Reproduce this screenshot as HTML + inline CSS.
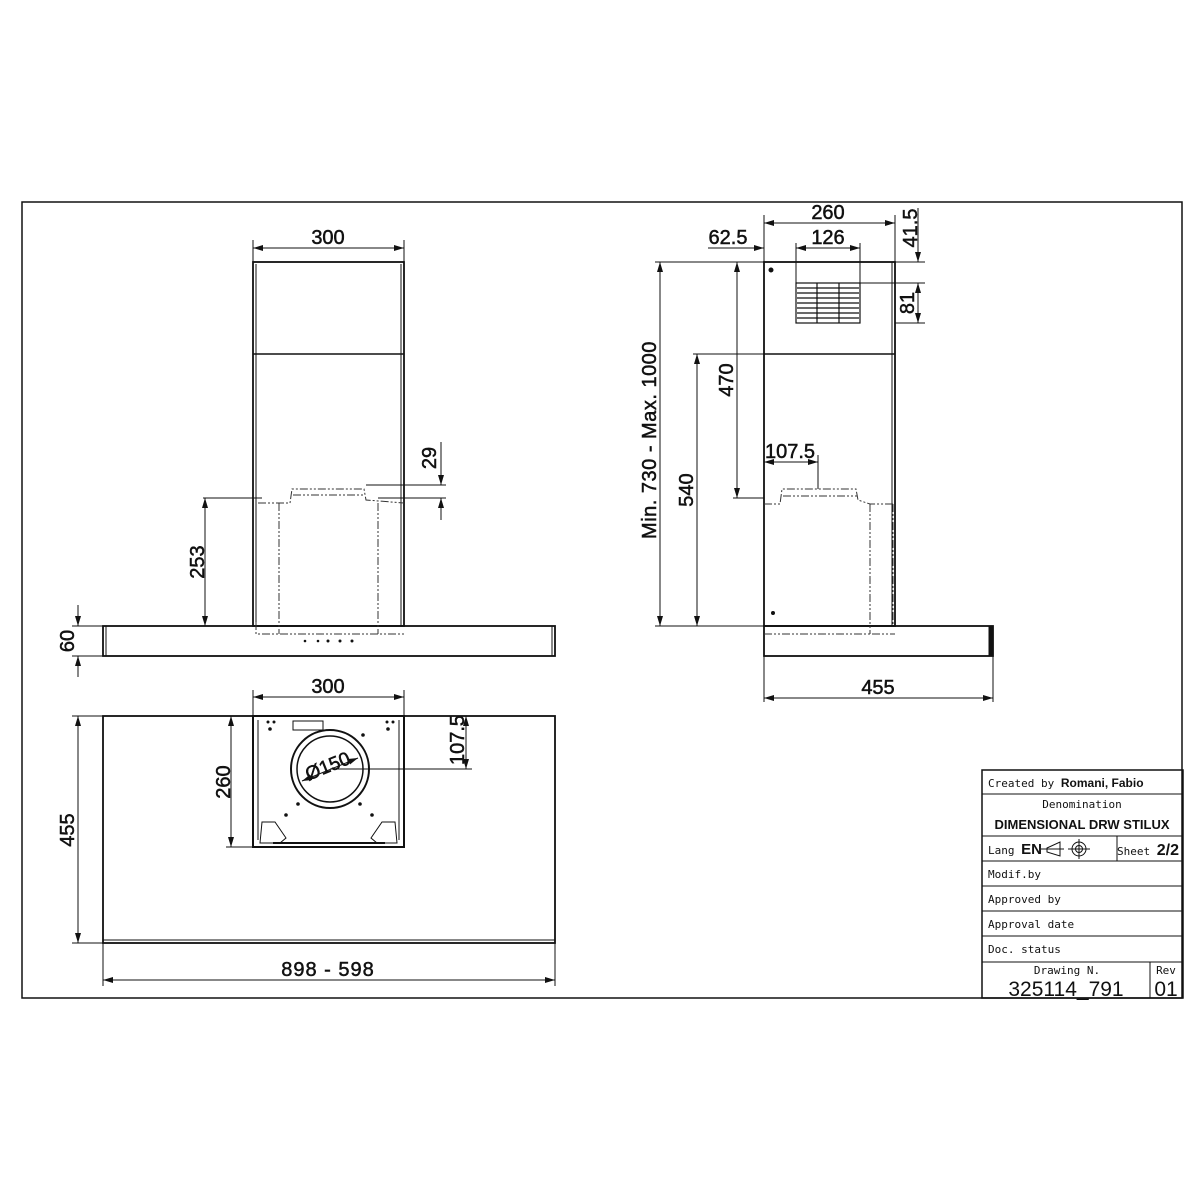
<!DOCTYPE html>
<html><head><meta charset="utf-8"><style>
body{margin:0;background:#fff}
svg{display:block}
text{font-family:"Liberation Sans",sans-serif;fill:#111}
.d text{stroke:#111;stroke-width:0.5}
.m{font-family:"DejaVu Sans Mono","Liberation Mono",monospace;font-size:11px}
</style></head><body>
<svg width="1200" height="1200" viewBox="0 0 1200 1200" xmlns="http://www.w3.org/2000/svg">
<defs>
<marker id="a" viewBox="0 0 10 6" refX="10" refY="3" markerWidth="10" markerHeight="6" markerUnits="userSpaceOnUse" orient="auto-start-reverse"><path d="M0,0 L10,3 L0,6 z" fill="#111"/></marker>
</defs>
<g fill="none" stroke="#111" stroke-width="1">
<rect x="22" y="202" width="1160" height="796" stroke-width="1.5"/>

<!-- FRONT VIEW -->
<rect x="253" y="262" width="151" height="364" stroke-width="1.8"/>
<line x1="256" y1="264" x2="256" y2="626"/><line x1="401" y1="264" x2="401" y2="626"/>
<line x1="253" y1="354" x2="404" y2="354" stroke-width="1.5"/>
<rect x="103" y="626" width="452" height="30" stroke-width="1.8"/>
<line x1="106" y1="626" x2="106" y2="656"/><line x1="552" y1="626" x2="552" y2="656"/>
<g stroke-dasharray="8,2,2,2,2,2" stroke="#333">
<polyline points="258,503 290,503 292,489 364,489 366,500 404,503"/>
<line x1="293" y1="495" x2="365" y2="495"/>
<line x1="279" y1="503" x2="279" y2="634"/><line x1="378" y1="503" x2="378" y2="634"/>
<polyline points="256,622 256,634 404,634"/>
</g>
<line x1="253" y1="240" x2="253" y2="262"/><line x1="404" y1="240" x2="404" y2="262"/>
<line x1="253" y1="248" x2="404" y2="248" marker-start="url(#a)" marker-end="url(#a)"/>
<line x1="203" y1="498" x2="262" y2="498"/>
<line x1="205" y1="498" x2="205" y2="626" marker-start="url(#a)" marker-end="url(#a)"/>
<line x1="366" y1="485" x2="446" y2="485"/><line x1="378" y1="498" x2="446" y2="498"/>
<line x1="441" y1="442" x2="441" y2="485" marker-end="url(#a)"/>
<line x1="441" y1="520" x2="441" y2="498" marker-end="url(#a)"/>
<line x1="72" y1="626" x2="103" y2="626"/><line x1="72" y1="656" x2="103" y2="656"/>
<line x1="78" y1="605" x2="78" y2="626" marker-end="url(#a)"/>
<line x1="78" y1="677" x2="78" y2="656" marker-end="url(#a)"/>

<!-- SIDE VIEW -->
<rect x="764" y="262" width="131" height="364" stroke-width="1.8"/>
<line x1="892" y1="262" x2="892" y2="626"/>
<line x1="764" y1="354" x2="895" y2="354" stroke-width="1.5"/>
<rect x="764" y="626" width="229" height="30" stroke-width="1.8"/>
<rect x="989" y="626" width="4" height="30" fill="#111"/>
<g stroke-width="1.2">
<rect x="796" y="283" width="64" height="40"/>
<line x1="817" y1="283" x2="817" y2="323"/><line x1="839" y1="283" x2="839" y2="323"/>
<path d="M797,288H859M797,293H859M797,298H859M797,303H859M797,308H859M797,313H859M797,318H859"/>
</g>
<circle cx="771" cy="270" r="2" fill="#111"/>
<circle cx="773" cy="613" r="1.5" fill="#111"/>
<g stroke-dasharray="8,2,2,2,2,2" stroke="#333">
<polyline points="764,504 780,504 782,489 856,489 858,500 870,504 895,504"/>
<line x1="783" y1="496" x2="857" y2="496"/>
<line x1="870" y1="504" x2="870" y2="634"/>
<line x1="764" y1="634" x2="895" y2="634"/>
<line x1="893" y1="504" x2="893" y2="626"/>
</g>
<line x1="764" y1="215" x2="764" y2="262"/><line x1="895" y1="215" x2="895" y2="262"/>
<line x1="764" y1="223" x2="895" y2="223" marker-start="url(#a)" marker-end="url(#a)"/>
<line x1="796" y1="243" x2="796" y2="283"/><line x1="860" y1="243" x2="860" y2="283"/>
<line x1="796" y1="248" x2="860" y2="248" marker-start="url(#a)" marker-end="url(#a)"/>
<line x1="708" y1="248" x2="764" y2="248" marker-end="url(#a)"/>
<line x1="655" y1="262" x2="925" y2="262"/>
<line x1="860" y1="283" x2="925" y2="283"/><line x1="895" y1="323" x2="925" y2="323"/>
<line x1="918" y1="208" x2="918" y2="262" marker-end="url(#a)"/>
<line x1="918" y1="283" x2="918" y2="323" marker-start="url(#a)" marker-end="url(#a)"/>
<line x1="655" y1="626" x2="764" y2="626"/>
<line x1="660" y1="262" x2="660" y2="626" marker-start="url(#a)" marker-end="url(#a)"/>
<line x1="693" y1="354" x2="764" y2="354"/>
<line x1="697" y1="354" x2="697" y2="626" marker-start="url(#a)" marker-end="url(#a)"/>
<line x1="733" y1="498" x2="764" y2="498"/>
<line x1="737" y1="262" x2="737" y2="498" marker-start="url(#a)" marker-end="url(#a)"/>
<line x1="764" y1="462" x2="818" y2="462" marker-start="url(#a)" marker-end="url(#a)"/>
<line x1="818" y1="455" x2="818" y2="489"/>
<line x1="764" y1="656" x2="764" y2="702"/><line x1="993" y1="656" x2="993" y2="702"/>
<line x1="764" y1="698" x2="993" y2="698" marker-start="url(#a)" marker-end="url(#a)"/>

<!-- PLAN VIEW -->
<rect x="103" y="716" width="452" height="227" stroke-width="1.8"/>
<line x1="103" y1="940" x2="555" y2="940"/>
<rect x="253" y="716" width="151" height="131" stroke-width="2"/>
<line x1="258" y1="720" x2="258" y2="840"/><line x1="399" y1="720" x2="399" y2="840"/>
<circle cx="330" cy="769" r="39" stroke-width="2"/>
<circle cx="330" cy="769" r="33" stroke-width="1.5"/>
<rect x="293" y="721" width="30" height="9"/>
<path d="M260,843 L262,822 L275,822 L286,838 L280,843 Z M397,843 L395,822 L382,822 L371,838 L377,843 Z"/>
<line x1="273" y1="843" x2="385" y2="843" stroke-width="2"/>
<g fill="#111" stroke="none">
<circle cx="268" cy="722" r="1.5"/><circle cx="274" cy="722" r="1.5"/><circle cx="270" cy="729" r="1.8"/>
<circle cx="387" cy="722" r="1.5"/><circle cx="393" cy="722" r="1.5"/><circle cx="388" cy="729" r="1.8"/>
<circle cx="363" cy="735" r="1.8"/><circle cx="298" cy="804" r="1.8"/><circle cx="360" cy="804" r="1.8"/>
<circle cx="286" cy="815" r="1.8"/><circle cx="372" cy="815" r="1.8"/>
<circle cx="305" cy="641" r="1.3"/><circle cx="318" cy="641" r="1.3"/><circle cx="328" cy="641" r="1.5"/><circle cx="340" cy="641" r="1.5"/><circle cx="352" cy="641" r="1.5"/>
</g>
<line x1="302" y1="781" x2="358" y2="758" marker-start="url(#a)" marker-end="url(#a)"/>
<line x1="330" y1="769" x2="472" y2="769"/>
<line x1="404" y1="716" x2="472" y2="716"/>
<line x1="466" y1="716" x2="466" y2="769" marker-start="url(#a)" marker-end="url(#a)"/>
<line x1="253" y1="690" x2="253" y2="716"/><line x1="404" y1="690" x2="404" y2="716"/>
<line x1="253" y1="697" x2="404" y2="697" marker-start="url(#a)" marker-end="url(#a)"/>
<line x1="226" y1="847" x2="253" y2="847"/>
<line x1="231" y1="716" x2="231" y2="847" marker-start="url(#a)" marker-end="url(#a)"/>
<line x1="72" y1="716" x2="103" y2="716"/><line x1="72" y1="943" x2="103" y2="943"/>
<line x1="78" y1="716" x2="78" y2="943" marker-start="url(#a)" marker-end="url(#a)"/>
<line x1="103" y1="943" x2="103" y2="986"/><line x1="555" y1="943" x2="555" y2="986"/>
<line x1="103" y1="980" x2="555" y2="980" marker-start="url(#a)" marker-end="url(#a)"/>

<!-- TITLE BLOCK -->
<rect x="982" y="770" width="201" height="228" stroke-width="1.5"/>
<path d="M982,794H1183M982,836H1183M982,861H1183M982,886H1183M982,911H1183M982,936H1183M982,962H1183M1117,836V861M1150,962V998"/>
<path d="M1047,848 L1060,842 L1060,856 L1047,852 Z M1041,849H1064"/>
<circle cx="1079" cy="849" r="7"/><circle cx="1079" cy="849" r="3.5"/>
<path d="M1068,849H1090M1079,839V859"/>
</g>

<g class="d" font-size="20" text-anchor="middle">
<text x="328" y="244">300</text>
<text x="828" y="219">260</text>
<text x="828" y="244">126</text>
<text x="728" y="244">62.5</text>
<text x="878" y="694">455</text>
<text x="328" y="693">300</text>
<text x="328" y="976" letter-spacing="1">898  -  598</text>
<text x="790" y="458">107.5</text>
<text transform="translate(204,562) rotate(-90)">253</text>
<text transform="translate(436,458) rotate(-90)">29</text>
<text transform="translate(74,641) rotate(-90)">60</text>
<text transform="translate(656,440) rotate(-90)" letter-spacing="0.5">Min.  730  -  Max.  1000</text>
<text transform="translate(693,490) rotate(-90)">540</text>
<text transform="translate(733,380) rotate(-90)">470</text>
<text transform="translate(917,228) rotate(-90)">41.5</text>
<text transform="translate(914,303) rotate(-90)">81</text>
<text transform="translate(230,782) rotate(-90)">260</text>
<text transform="translate(74,830) rotate(-90)">455</text>
<text transform="translate(464,740) rotate(-90)">107.5</text>
<text transform="translate(330,772) rotate(-22)" font-size="19">Ø150</text>
</g>

<g>
<text class="m" x="988" y="787">Created by <tspan font-family="Liberation Sans" font-weight="bold" font-size="12">Romani, Fabio</tspan></text>
<text class="m" x="1082" y="808" text-anchor="middle">Denomination</text>
<text x="1082" y="829" text-anchor="middle" font-weight="bold" font-size="13">DIMENSIONAL  DRW  STILUX</text>
<text class="m" x="988" y="854">Lang <tspan font-family="Liberation Sans" font-weight="bold" font-size="15">EN</tspan></text>
<text class="m" x="1117" y="855">Sheet <tspan font-family="Liberation Sans" font-weight="bold" font-size="16">2/2</tspan></text>
<text class="m" x="988" y="878">Modif.by</text>
<text class="m" x="988" y="903">Approved by</text>
<text class="m" x="988" y="928">Approval date</text>
<text class="m" x="988" y="953">Doc. status</text>
<text class="m" x="1067" y="974" text-anchor="middle" font-size="13">Drawing N.</text>
<text x="1066" y="996" text-anchor="middle" font-size="21">325114_791</text>
<text class="m" x="1166" y="974" text-anchor="middle" font-size="13">Rev</text>
<text x="1166" y="996" text-anchor="middle" font-size="21">01</text>
</g>
</svg>
</body></html>
